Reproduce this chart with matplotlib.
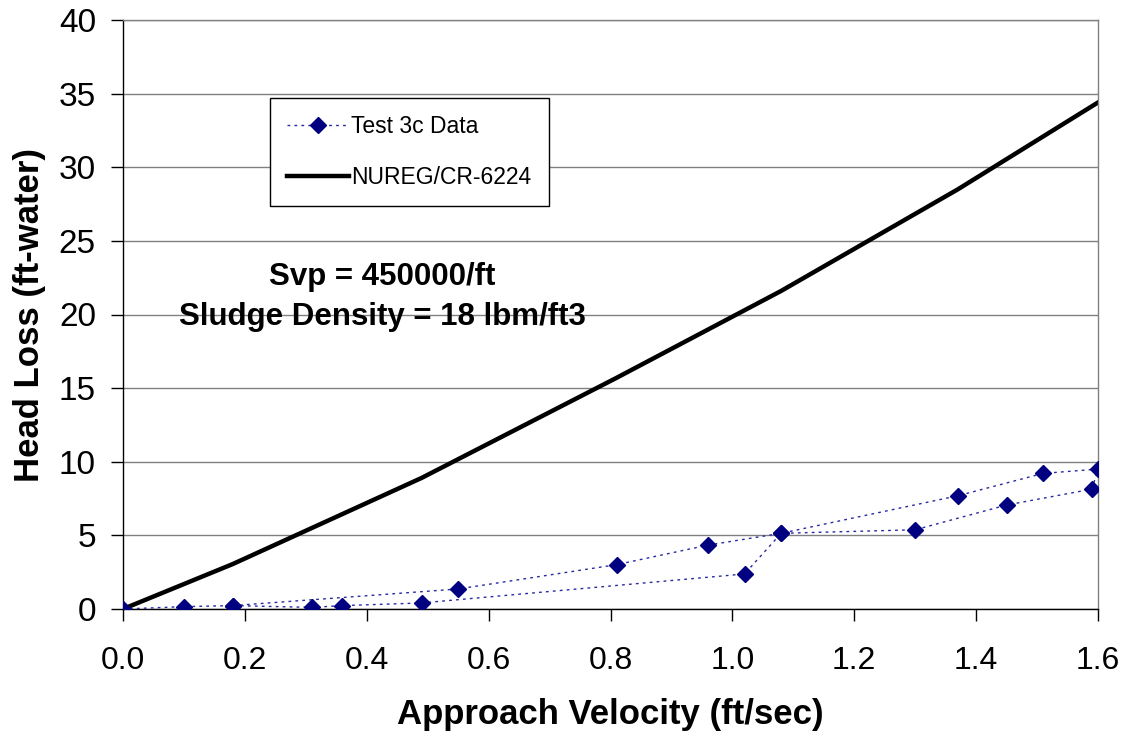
import matplotlib
matplotlib.use("Agg")
import matplotlib.pyplot as plt

plt.rcParams['font.family'] = ['Liberation Sans', 'DejaVu Sans']

# Test 3c data (in test sequence order)
test_velocity = [0.00, 0.10, 0.18, 0.31, 0.36, 0.49, 1.02, 1.08, 1.30, 1.45, 1.59, 1.60,
                 1.51, 1.37, 1.08, 0.96, 0.81, 0.55, 0.18]
test_headloss = [0.00, 0.16, 0.23, 0.11, 0.23, 0.41, 2.38, 5.14, 5.38, 7.06, 8.14, 9.50,
                 9.21, 7.69, 5.14, 4.34, 3.01, 1.36, 0.23]

# NUREG/CR-6224 prediction
nureg_velocity = [0.00, 0.18, 0.49, 0.81, 1.08, 1.37, 1.60]
nureg_headloss = [0.00, 3.05, 8.90, 15.70, 21.60, 28.50, 34.40]

x_ticks = [0.0, 0.2, 0.4, 0.6, 0.8, 1.0, 1.2, 1.4, 1.6]
y_ticks = [0, 5, 10, 15, 20, 25, 30, 35, 40]

fig = plt.figure(figsize=(11.27, 7.40), dpi=100)
ax = fig.add_axes([123/1127, 1 - 609/740, (1098-123)/1127, (609-20)/740])

ax.plot(test_velocity, test_headloss, linestyle=(0, (2, 3)), color='#2a2aa0', linewidth=1.0,
        marker='D', markersize=8.5, markerfacecolor='#000080', markeredgecolor='#000080',
        label='Test 3c Data', zorder=3)
ax.plot(nureg_velocity, nureg_headloss, color='black', linewidth=3.2,
        label='NUREG/CR-6224', zorder=2)

ax.set_xlim(0, 1.6)
ax.set_ylim(0, 40)
ax.set_xticks(x_ticks)
ax.set_xticklabels([f"{v:.1f}" for v in x_ticks])
ax.set_yticks(y_ticks)
ax.yaxis.grid(True, color='#808080', linewidth=1.0)
ax.set_axisbelow(True)

ax.tick_params(axis='both', direction='out', length=8.5, width=1, color='black')
ax.tick_params(axis='x', pad=18, labelsize=23)
ax.tick_params(axis='y', pad=11, labelsize=24)

for side in ['left', 'bottom']:
    ax.spines[side].set_color('black')
    ax.spines[side].set_linewidth(1.0)
for side in ['top', 'right']:
    ax.spines[side].set_color('#808080')
    ax.spines[side].set_linewidth(1.0)

ax.set_xlabel('Approach Velocity (ft/sec)', fontsize=25, fontweight='bold', labelpad=16)
ax.set_ylabel('Head Loss (ft-water)', fontsize=25, fontweight='bold', labelpad=9)

ax.text(0.266, 0.53, 'Svp = 450000/ft\nSludge Density = 18 lbm/ft3', transform=ax.transAxes,
        ha='center', va='center', fontsize=22.5, fontweight='bold', linespacing=1.45)

leg = ax.legend(loc='upper left', bbox_to_anchor=((270-123)/975, (609-98)/589),
                borderaxespad=0, fontsize=16.5, frameon=True, fancybox=False,
                edgecolor='black', framealpha=1, handlelength=2.7, labelspacing=1.2,
                borderpad=0.75, handletextpad=0.1)
leg.get_frame().set_linewidth(1.0)

fig.savefig('out.png', dpi=100, facecolor='white')
